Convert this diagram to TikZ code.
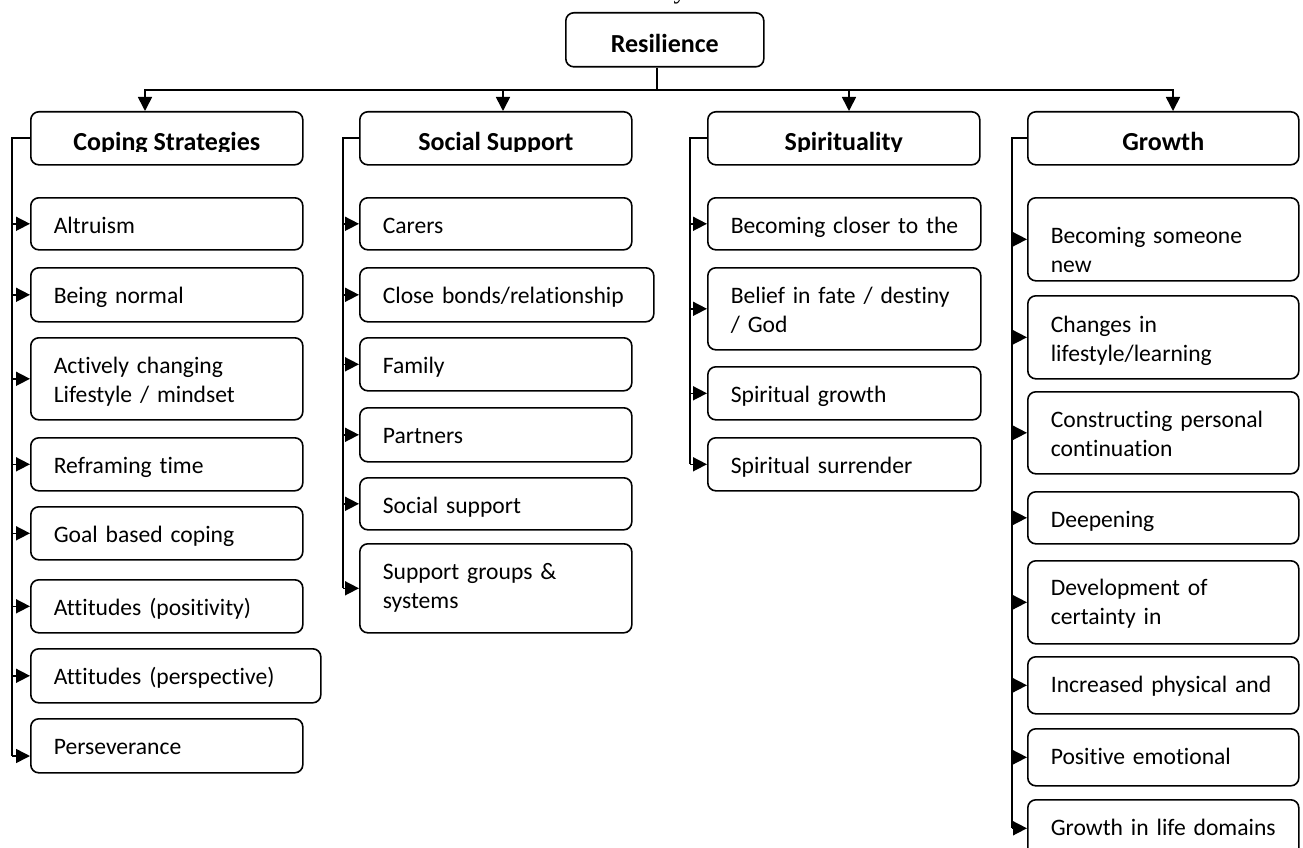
\documentclass[tikz,border=0pt]{standalone}
\usepackage{fontspec}
\setmainfont{Carlito}[Ligatures=NoCommon]
\newfontfamily\titlefont{Liberation Serif}
\usetikzlibrary{arrows.meta}
\newcommand\bodyfont{\fontsize{23.6}{29}\selectfont\hyphenpenalty=10000\exhyphenpenalty=10000}
\newcommand\headfont{\fontsize{26}{31}\selectfont\bfseries}
\begin{document}
\begin{tikzpicture}[x=1pt,y=-1pt,
  every node/.style={inner sep=0pt},
  conn/.style={line width=1.6pt, black},
  arr/.style={conn, -{Triangle[length=14pt,width=14pt]}},
  frame/.style={draw, line width=1.6pt, rounded corners=8pt},
  headbox/.style={frame, anchor=north west, minimum width=#1, minimum height=53},
  htext/.style={font=\headfont, anchor=base, yshift=-12.5pt},
  % item box: #1 = text width (box width - 46), #2 = text depth (box height - 36)
  itembox/.style 2 args={frame, anchor=north west, font=\bodyfont, align=left,
    inner xsep=23pt, inner ysep=0pt, text width=#1, text height=36pt, text depth=#2}]
\useasboundingbox (0,0) rectangle (1303,848);

% tail of the title line above
\node[font=\titlefont\fontsize{26}{30}\selectfont, anchor=base] (ttl) at (680,-1.5) {y};

% root
\node[frame, anchor=north west, minimum width=198, font=\headfont,
      text height=40pt, text depth=14pt, inner ysep=0pt] (res) at (565,12) {Resilience};

% category headers
\node[headbox=272] (h1) at (30,111) {};
\node[headbox=272] (h2) at (359,111) {};
\node[headbox=272] (h3) at (707,111) {};
\node[headbox=271] (h4) at (1027,111) {};
\begin{scope}
  \clip (0,100) rectangle (1303,151.5);
  \node[htext] (ht1) at (h1.center) {Coping Strategies};
  \node[htext] (ht2) at (h2.center) {Social Support};
  \node[htext] (ht3) at (h3.center) {Spirituality};
  \node[htext] (ht4) at (h4.center) {Growth};
\end{scope}

% Coping Strategies
\node[itembox={226pt}{16pt}] (a1) at (30,197) {Altruism};
\node[itembox={226pt}{18pt}] (a2) at (30,267) {Being normal};
\node[itembox={226pt}{46pt}] (a3) at (30,337) {Actively changing\\Lifestyle / mindset};
\node[itembox={226pt}{17pt}] (a4) at (30,437) {Reframing time};
\node[itembox={226pt}{17pt}] (a5) at (30,506) {Goal based coping};
\node[itembox={226pt}{17pt}] (a6) at (30,579) {Attitudes (positivity)};
\node[itembox={244pt}{18pt}] (a7) at (30,648) {Attitudes~(perspective)};
\node[itembox={226pt}{18pt}] (a8) at (30,718) {Perseverance};

% Social Support
\node[itembox={226pt}{16pt}] (b1) at (359,197) {Carers};
\node[itembox={248pt}{18pt}] (b2) at (359,267) {Close~bonds/relationship};
\node[itembox={226pt}{17pt}] (b3) at (359,337) {Family};
\node[itembox={226pt}{18pt}] (b4) at (359,407) {Partners};
\node[itembox={226pt}{16pt}] (b5) at (359,477) {Social support};
\node[itembox={226pt}{53pt}] (b6) at (359,543) {Support groups \&\\systems};

% Spirituality
\node[itembox={227pt}{16pt}] (c1) at (707,197) {Becoming~closer~to~the};
\node[itembox={227pt}{46pt}] (c2) at (707,267) {Belief in fate / destiny\\/ God};
\node[itembox={227pt}{17pt}] (c3) at (707,366) {Spiritual growth};
\node[itembox={227pt}{17pt}] (c4) at (707,437) {Spiritual surrender};

% Growth
\node[itembox={225pt}{37pt}, text height=46pt] (d1) at (1027,197) {Becoming someone\\new};
\node[itembox={225pt}{46pt}, text height=37pt] (d2) at (1027,295) {Changes in\\lifestyle/learning};
\node[itembox={225pt}{46pt}] (d3) at (1027,391) {Constructing~personal\\continuation};
\node[itembox={225pt}{16pt}] (d4) at (1027,491) {Deepening};
\node[itembox={225pt}{48pt}, text height=35pt] (d5) at (1027,560) {Development of\\certainty in};
\node[itembox={225pt}{21pt}] (d6) at (1027,656) {Increased~physical~and};
\node[itembox={225pt}{21pt}] (d7) at (1027,728) {Positive emotional};
\node[itembox={225pt}{21pt}] (d8) at (1027,799) {Growth~in~life~domains};

% bus from the root to the four headers
\coordinate (bus) at (657,90);
\coordinate (t1) at (145,111);
\coordinate (t2) at (503,111);
\coordinate (t3) at (849,111);
\coordinate (t4) at (1173,111);
\draw[conn] (res.south -| bus) -- (bus);
\foreach \t in {t1,t2,t3,t4} \draw[arr] (bus) -| (\t);

% trunks down the left of each column
\coordinate (e1) at (12,756);
\coordinate (e2) at (343,0);
\coordinate (e3) at (690,0);
\coordinate (e4) at (1012,0);
\draw[conn] (h1.west) -| (e1);
\draw[conn] (h2.west) -| (e2 |- b6.west);
\draw[conn] (h3.west) -| (e3 |- c4.west);
\draw[conn] (h4.west) -| (e4 |- d8.west);

\foreach \n in {a1,a2,a3,a4,a5,a6,a7} \draw[arr] (\n.west -| e1) -- (\n.west);
\draw[arr] (e1) -- (e1 -| a8.west);
\foreach \n in {b1,b2,b3,b4,b5,b6} \draw[arr] (\n.west -| e2) -- (\n.west);
\foreach \n in {c1,c2,c3,c4} \draw[arr] (\n.west -| e3) -- (\n.west);
\foreach \n in {d1,d2,d3,d4,d5,d6,d7,d8} \draw[arr] (\n.west -| e4) -- (\n.west);
\end{tikzpicture}
\end{document}
